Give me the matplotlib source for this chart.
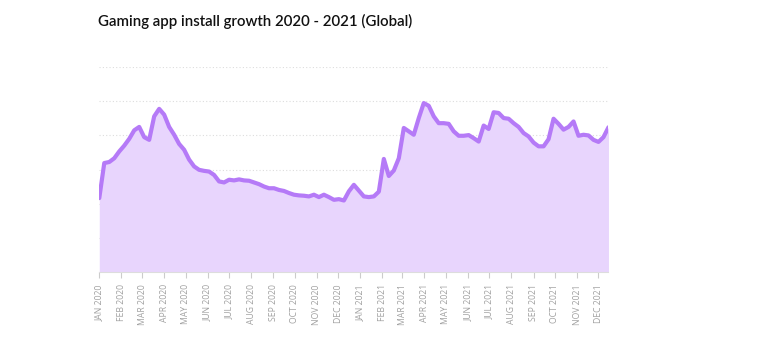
import pandas as pd
import matplotlib
matplotlib.use("Agg")
import matplotlib.pyplot as plt
import matplotlib.dates as mdates

# weekly installs (relative units), Jan 2020 - Dec 2021
installs = [
    2.16, 3.19, 3.22, 3.33, 3.53, 3.70, 3.90, 4.15, 4.25, 3.95,
    3.87, 4.56, 4.78, 4.61, 4.25, 4.02, 3.75, 3.58, 3.29, 3.09,
    2.99, 2.96, 2.94, 2.84, 2.65, 2.62, 2.70, 2.68, 2.71, 2.68,
    2.67, 2.62, 2.57, 2.50, 2.45, 2.45, 2.40, 2.37, 2.31, 2.26,
    2.24, 2.23, 2.21, 2.26, 2.19, 2.26, 2.19, 2.11, 2.13, 2.09,
    2.36, 2.55, 2.38, 2.21, 2.19, 2.21, 2.35, 3.31, 2.81, 2.97,
    3.33, 4.22, 4.12, 4.02, 4.51, 4.95, 4.87, 4.56, 4.36, 4.36,
    4.34, 4.12, 3.99, 3.99, 4.01, 3.92, 3.82, 4.29, 4.19, 4.68,
    4.66, 4.51, 4.49, 4.36, 4.25, 4.07, 3.97, 3.79, 3.68, 3.68,
    3.89, 4.49, 4.34, 4.17, 4.25, 4.41, 3.99, 4.02, 4.00, 3.87,
    3.81, 3.95, 4.24,
]
weeks = pd.date_range("2020-01-01", periods=len(installs), freq="7D")
month_ticks = pd.date_range("2020-01-01", "2021-12-01", freq="MS")
month_labels = [d.strftime("%b %Y").upper() for d in month_ticks]

line_color = "#b57af7"
fill_color = "#e8d5fd"

fig = plt.figure(figsize=(7.78, 3.63), dpi=100)
ax = fig.add_axes([0.1276, 0.2515, 0.6545, 0.5631])

ax.fill_between(weeks, installs, 0, color=fill_color, linewidth=0)
ax.plot(weeks, installs, color=line_color, linewidth=3, solid_joinstyle="round",
        solid_capstyle="round", zorder=3)

ax.set_xlim(weeks[0], weeks[-1])
ax.set_ylim(0, 6)
ax.set_yticks([1, 2, 3, 4, 5, 6])
ax.yaxis.grid(True, linestyle=(0, (1, 2)), color="#dddddd", linewidth=0.8)
ax.tick_params(axis="y", left=False, labelleft=False)
ax.set_axisbelow(True)

ax.set_xticks(month_ticks)
ax.set_xticklabels(month_labels, rotation=90, fontsize=6.2, color="#a0a0a0",
                   family="Open Sans")
ax.tick_params(axis="x", length=4, color="#cccccc", pad=5)

for s in ["top", "right", "left"]:
    ax.spines[s].set_visible(False)
ax.spines["bottom"].set_color("#dddddd")

fig.text(0.126, 0.94, "Gaming app install growth 2020 - 2021 (Global)",
         fontsize=10.8, fontweight="semibold", family="Lato", color="#111111",
         va="center", ha="left")

fig.savefig("out.png", dpi=100)
